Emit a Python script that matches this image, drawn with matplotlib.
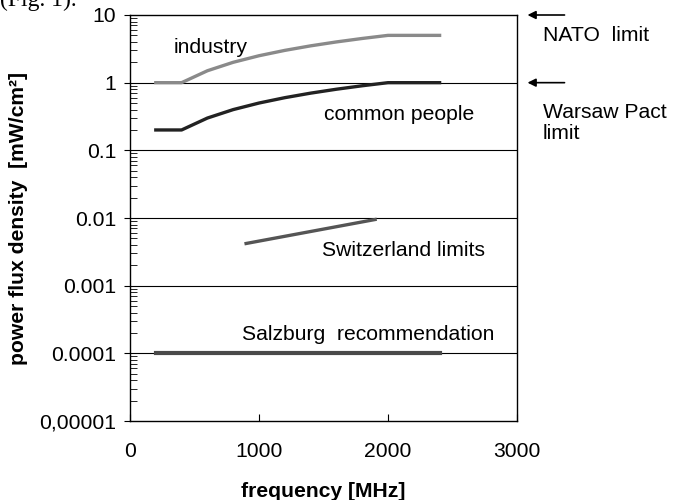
import matplotlib.pyplot as plt
import numpy as np

plt.rcParams['font.family'] = ['Liberation Sans', 'DejaVu Sans']

# frequenze in MHz, densita' di potenza in mW/cm2
freq = [200, 400, 600, 800, 1000, 1200, 1400, 1600, 1800, 2000, 2400]
industry = [1, 1, 1.5, 2, 2.5, 3, 3.5, 4, 4.5, 5, 5]
common_people = [0.2, 0.2, 0.3, 0.4, 0.5, 0.6, 0.7, 0.8, 0.9, 1, 1]

swiss_freq = [900, 1900]
swiss = [0.0042, 0.0095]

salzburg_freq = [200, 2400]
salzburg = [0.0001, 0.0001]

y_ticks = [1e-5, 1e-4, 1e-3, 1e-2, 1e-1, 1, 10]
y_labels = ['0,00001', '0.0001', '0.001', '0.01', '0.1', '1', '10']
x_ticks = [0, 1000, 2000, 3000]

fs = 15.2

fig = plt.figure(figsize=(6.79, 5.00), dpi=100)
ax = fig.add_axes([130/679, 1 - 421/500, 387/679, 406/500])

for y in y_ticks[1:-1]:
    ax.axhline(y, color='black', lw=0.8, zorder=1)

ax.plot(freq, industry, color='#8a8a8a', lw=2.4, zorder=3)
ax.plot(freq, common_people, color='#222222', lw=2.4, zorder=3)
ax.plot(swiss_freq, swiss, color='#555555', lw=2.4, zorder=3)
ax.plot(salzburg_freq, salzburg, color='#4a4a4a', lw=3.0, zorder=3)

ax.set_yscale('log')
ax.set_ylim(1e-5, 10)
ax.set_xlim(0, 3000)
ax.set_yticks(y_ticks)
ax.set_yticklabels(y_labels)
ax.set_xticks(x_ticks)
ax.set_xticklabels([str(x) for x in x_ticks])
ax.tick_params(axis='both', labelsize=fs)
ax.tick_params(axis='y', which='major', direction='out', length=4, pad=6)
ax.tick_params(axis='y', which='minor', direction='in', length=5)
ax.tick_params(axis='x', direction='in', length=5, pad=15)
for s in ax.spines.values():
    s.set_linewidth(1.0)

ax.set_xlabel('frequency [MHz]', fontsize=fs, fontweight='bold', labelpad=15)
ax.set_ylabel('power flux density  [mW/cm²]', fontsize=fs, fontweight='bold', labelpad=8)

ax.text(340, 3.3, 'industry', fontsize=fs, ha='left', va='center')
ax.text(1505, 0.34, 'common people', fontsize=fs, ha='left', va='center')
ax.text(1490, 0.0033, 'Switzerland limits', fontsize=fs, ha='left', va='center')
ax.text(870, 0.00019, 'Salzburg  recommendation', fontsize=fs, ha='left', va='center')

# frecce dei limiti a destra
for yv in [10, 1]:
    ax.annotate('', xy=(1.02, np.log10(yv) / 6 + 5 / 6), xycoords='axes fraction',
                xytext=(1.13, np.log10(yv) / 6 + 5 / 6), textcoords='axes fraction',
                arrowprops=dict(arrowstyle='-|>', color='black', lw=1.2, mutation_scale=12),
                annotation_clip=False)
fig.text(543/679, 1 - 35/500, 'NATO  limit', fontsize=fs, va='center')
fig.text(543/679, 1 - 123/500, 'Warsaw Pact\nlimit', fontsize=fs, va='center', linespacing=1.1)

fig.text(0.0, 0.988, '(Fig. 1).', fontsize=17, family='Liberation Serif', va='baseline')

fig.savefig('out.png', dpi=100)
